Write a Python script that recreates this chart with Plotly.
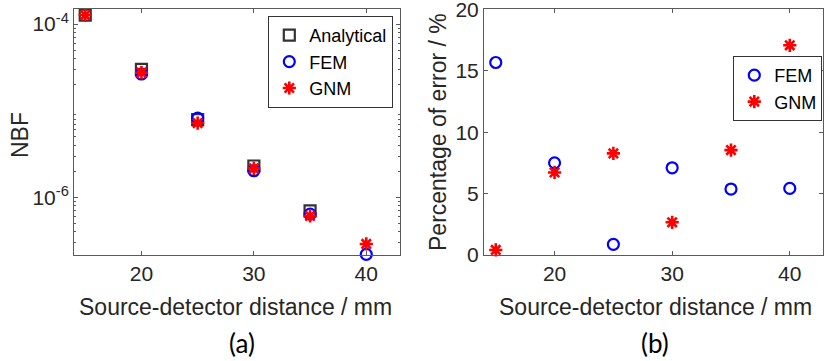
import plotly.graph_objects as go

# ---- data ----
distance = [15, 20, 25, 30, 35, 40]
nbf_analytical = [1.27e-4, 3.0e-5, 7.9e-6, 2.3e-6, 7.0e-7, 2.16e-7]
nbf_fem = [1.48e-4, 2.65e-5, 8.2e-6, 2.03e-6, 6.4e-7, 2.2e-7]
nbf_gnm = [1.27e-4, 2.75e-5, 7.2e-6, 2.16e-6, 6.1e-7, 2.9e-7]
err_fem = [15.67, 7.5, 0.87, 7.1, 5.37, 5.42]
err_gnm = [0.41, 6.72, 8.27, 2.66, 8.54, 17.07]
xticks = [20, 30, 40]
log_tickvals = [1e-6, 1e-4]
log_ticktext = ["10<sup>-6</sup>", "10<sup>-4</sup>"]
err_ticks = [0, 5, 10, 15, 20]

W, H = 830, 361
FONT = "Liberation Sans"
AXC = "#262626"
LINEC = "#5a5a5a"

def px_x(p):
    return p / W

def px_y(p):
    return 1 - p / H

fig = go.Figure()

mk_sq = dict(symbol="square-open", size=11, color="#333333", line=dict(width=2.2, color="#333333"))
mk_o = dict(symbol="circle-open", size=11, color="#0000ff", line=dict(width=2.2, color="#0000ff"))
mk_s = dict(symbol="asterisk-open", size=11, color="#ff0000", line=dict(width=2.6, color="#ff0000"))

fig.add_trace(go.Scatter(x=distance, y=nbf_analytical, mode="markers", name="Analytical",
                         marker=mk_sq, cliponaxis=False, xaxis="x", yaxis="y", legend="legend"))
fig.add_trace(go.Scatter(x=distance, y=nbf_fem, mode="markers", name="FEM",
                         marker=mk_o, cliponaxis=False, xaxis="x", yaxis="y", legend="legend"))
fig.add_trace(go.Scatter(x=distance, y=nbf_gnm, mode="markers", name="GNM",
                         marker=mk_s, cliponaxis=False, xaxis="x", yaxis="y", legend="legend"))

fig.add_trace(go.Scatter(x=distance, y=err_fem, mode="markers", name="FEM",
                         marker=mk_o, cliponaxis=False, xaxis="x2", yaxis="y2", legend="legend2"))
fig.add_trace(go.Scatter(x=distance, y=err_gnm, mode="markers", name="GNM",
                         marker=mk_s, cliponaxis=False, xaxis="x2", yaxis="y2", legend="legend2"))

TK = 21
axis_common = dict(showline=True, mirror="ticks", linecolor=LINEC, linewidth=1,
                   ticks="inside", tickcolor=LINEC, ticklen=4, showgrid=False, zeroline=False,
                   ticklabeloverflow="allow", automargin=False,
                   tickfont=dict(family=FONT, size=TK, color=AXC))

minor_vals = []
for e in [-7, -6, -5, -4]:
    for m in range(2, 10):
        minor_vals.append(m * 10 ** e)

y_top = 9.3
y_bot = 255
TS = 23

fig.update_layout(
    width=W, height=H,
    margin=dict(l=0, r=0, t=0, b=0, autoexpand=False),
    paper_bgcolor="white", plot_bgcolor="white",
    font=dict(family=FONT, size=TK, color=AXC),
    showlegend=True,
    xaxis=dict(domain=[px_x(74), px_x(400)], range=[14, 43], tickvals=xticks,
               anchor="y", **axis_common),
    yaxis=dict(domain=[px_y(y_bot), px_y(y_top)], type="log",
               range=[-6.665, -3.83], tickvals=log_tickvals, ticktext=log_ticktext,
               anchor="x", **axis_common,
               minor=dict(ticks="inside", ticklen=2, tickcolor=LINEC, tickvals=minor_vals)),
    xaxis2=dict(domain=[px_x(484), px_x(823.3)], range=[14, 42.85], tickvals=xticks,
                anchor="y2", **axis_common),
    yaxis2=dict(domain=[px_y(y_bot), px_y(y_top)], range=[0, 20], tickvals=err_ticks,
                anchor="x2", **axis_common),
    legend=dict(x=px_x(268.3), y=px_y(16), xanchor="left", yanchor="top",
                bgcolor="white", bordercolor="#333333", borderwidth=1,
                font=dict(family=FONT, size=18, color="black"),
                tracegroupgap=0, itemwidth=30),
    legend2=dict(x=px_x(733.3), y=px_y(56), xanchor="left", yanchor="top",
                 bgcolor="white", bordercolor="#333333", borderwidth=1,
                 font=dict(family=FONT, size=18, color="black"),
                 tracegroupgap=0, itemwidth=30),
)

title_font = dict(family=FONT, size=TS, color=AXC)
fig.add_annotation(text="Source-detector distance / mm", x=px_x(235), y=px_y(306.5),
                   xref="paper", yref="paper", showarrow=False, font=title_font,
                   xanchor="center", yanchor="middle")
fig.add_annotation(text="Source-detector distance / mm", x=px_x(655), y=px_y(306.5),
                   xref="paper", yref="paper", showarrow=False, font=title_font,
                   xanchor="center", yanchor="middle")
fig.add_annotation(text="NBF", x=px_x(20), y=px_y(135), textangle=-90,
                   xref="paper", yref="paper", showarrow=False, font=title_font,
                   xanchor="center", yanchor="middle")
fig.add_annotation(text="Percentage of error / %", x=px_x(438), y=px_y(132), textangle=-90,
                   xref="paper", yref="paper", showarrow=False, font=title_font,
                   xanchor="center", yanchor="middle")

fig.add_annotation(text="(a)", x=px_x(241.7), y=px_y(343), xref="paper", yref="paper",
                   showarrow=False, font=dict(family="Lato", size=26, color="black"),
                   xanchor="center", yanchor="middle")
fig.add_annotation(text="(b)", x=px_x(655), y=px_y(343), xref="paper", yref="paper",
                   showarrow=False, font=dict(family="Lato", size=26, color="black"),
                   xanchor="center", yanchor="middle")

fig.write_html("out.html", config={"displayModeBar": False},
               post_script="document.body.style.margin='0px';document.body.style.overflow='hidden';")
